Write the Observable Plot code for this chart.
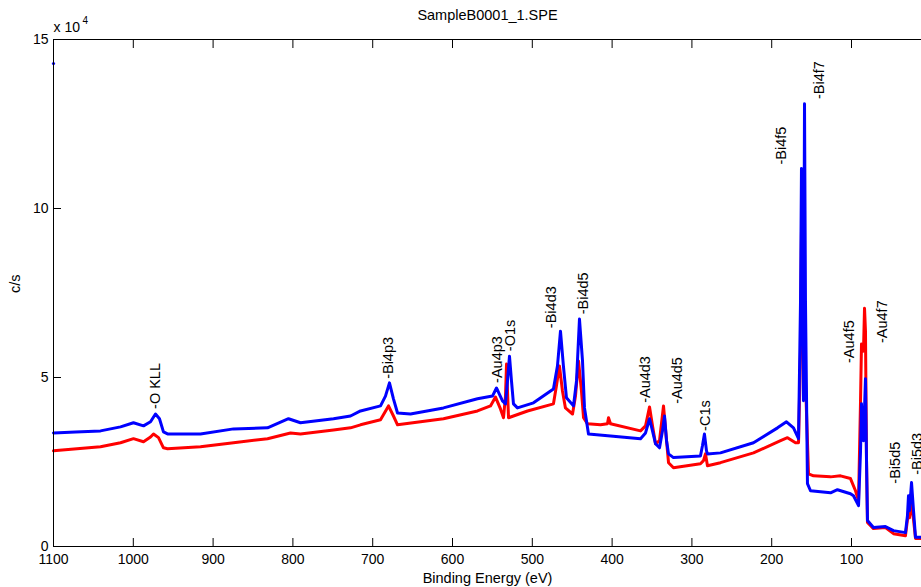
<!DOCTYPE html>
<html><head><meta charset="utf-8">
<script src="https://cdn.jsdelivr.net/npm/d3@7"></script>
<script src="https://cdn.jsdelivr.net/npm/@observablehq/plot@0.6"></script>
<style>body{margin:0;background:#fff}</style>
</head><body><div id="chart"></div>
<script>
// Binding energy (eV) and counts (in units of 10^4 c/s)
const blueEnergy = [1100,1072.4,1041.1,1016.0,999.8,987.2,978.4,972.2,967.2,962.2,957.1,915.8,874.4,831.8,805.5,790.5,749.1,727.8,715.3,690.2,684.0,679.0,674.0,668.9,652.6,611.3,568.7,549.9,544.9,537.4,533.6,531.1,528.6,526.1,523.6,518.6,498.5,473.5,468.5,464.7,461.0,457.2,448.4,444.6,440.9,437.1,434.6,429.6,402.0,364.4,358.1,353.1,349.4,345.6,340.6,336.9,334.3,331.8,329.3,323.1,289.3,286.8,284.3,281.7,280.5,264.2,222.8,192.7,181.5,172.7,166.4,163.9,162.7,161.5,160.2,158.9,157.7,155.2,151.4,126.3,117.6,101.3,97.5,91.2,88.7,87.5,86.2,85.0,82.5,81.2,80.0,72.5,57.5,47.4,32.4,29.9,28.6,27.4,24.8,22.3,19.8,12.3];
const blueCounts = [3.36,3.39,3.42,3.54,3.66,3.57,3.69,3.92,3.78,3.39,3.33,3.33,3.48,3.51,3.78,3.66,3.78,3.86,4.01,4.16,4.45,4.84,4.37,3.95,3.92,4.10,4.37,4.45,4.69,4.31,4.22,4.90,5.63,4.90,4.22,4.10,4.25,4.66,5.34,6.37,5.34,4.40,4.16,4.90,6.73,5.49,4.10,3.33,3.27,3.19,3.36,3.78,3.42,3.04,2.92,3.42,3.86,3.13,2.74,2.63,2.68,2.98,3.33,2.83,2.74,2.77,3.07,3.51,3.69,3.51,3.19,7.26,11.18,7.26,4.31,13.10,7.26,1.86,1.65,1.59,1.68,1.56,1.50,1.21,2.83,4.22,3.42,3.13,4.96,2.54,0.77,0.56,0.59,0.47,0.41,0.91,1.50,1.06,1.89,1.06,0.27,0.27];
const blueFirstEnergy = [1100];
const blueFirstCounts = [14.29];

const redEnergy = [1100,1041.1,1016,999.8,987.2,978.4,974.7,968.4,962.2,957.1,915.8,874.4,831.8,803,790.5,749.1,727.8,715.3,690.2,680.2,674,668.9,611.3,568.7,552.4,546.1,539.9,536.1,533.6,532.3,531.1,529.8,506,473.5,469.8,466,462.2,458.5,449.6,445.9,442.1,438.4,435.8,430.8,414.5,405.8,404.5,402,364.4,358.1,353.1,349.4,345.6,340.6,335.6,331.8,329.3,323.1,289.3,285.5,283,280.5,264.2,222.8,188.9,180.2,170.2,166.4,163.9,162.7,161.5,160.2,157.7,153.9,147.6,126.3,113.8,101.3,95,91.2,88.7,87.5,86.2,85,83.7,82.5,81.2,80,72.5,57.5,47.4,32.4,29.9,28.6,27.4,24.8,22.3,19.8,12.3];
const redCounts = [2.83,2.95,3.07,3.19,3.10,3.24,3.33,3.22,2.92,2.89,2.95,3.07,3.19,3.36,3.33,3.45,3.51,3.60,3.75,4.16,3.86,3.60,3.78,4.01,4.16,4.42,4.07,3.81,4.45,5.40,4.60,3.81,4.01,4.22,4.75,5.34,4.60,4.10,3.92,4.45,5.49,4.60,3.81,3.63,3.60,3.63,3.81,3.63,3.42,3.57,4.13,3.57,3.04,3.13,4.16,3.13,2.48,2.33,2.45,2.54,2.74,2.39,2.48,2.77,3.13,3.22,3.07,3.07,5.78,9.32,5.78,8.82,4.90,2.15,2.09,2.06,2.09,2.01,1.65,1.36,4.31,5.99,5.93,5.78,7.05,6.37,2.54,0.71,0.53,0.56,0.38,0.32,0.80,1.06,0.85,1.27,0.80,0.24,0.24];

const peakLabels = ["-O KLL","-Bi4p3","-Au4p3","-O1s","-Bi4d3","-Bi4d5","-Au4d3","-Au4d5","-C1s","-Bi4f5","-Bi4f7","-Au4f5","-Au4f7","-Bi5d5","-Bi5d3"];
const peakEnergy = [972,680,544,527,476,436,358,318,283,188,140,102.5,61,45,17];
const peakCounts = [4.07,4.96,4.84,5.78,6.46,6.87,4.25,4.22,3.42,11.3,13.24,5.43,6.02,1.86,2.12];

const xTicks = [1100,1000,900,800,700,600,500,400,300,200,100];
const yTicks = [0,5,10,15];
const titleText = "SampleB0001_1.SPE";
const xLabel = "Binding Energy (eV)";
const yLabel = "c/s";

const blue = blueEnergy.map((e,i)=>({e, c: blueCounts[i]}));
const red = redEnergy.map((e,i)=>({e, c: redCounts[i]}));
const blueFirst = blueFirstEnergy.map((e,i)=>({e, c: blueFirstCounts[i]}));
const peaks = peakLabels.map((label,i)=>({label, e: peakEnergy[i], c: peakCounts[i]}));

const font = "Liberation Sans, Arial, Helvetica, sans-serif";
const chart = Plot.plot({
  width: 921, height: 587,
  marginLeft: 53, marginRight: 0, marginTop: 39, marginBottom: 41,
  style: {fontFamily: font, fontSize: "14px", color: "#000", background: "#fff", overflow: "visible"},
  x: {domain: [1100, 12.3], axis: null},
  y: {domain: [0, 15], axis: null},
  marks: [
    Plot.line(red, {x: "e", y: "c", stroke: "#ff0000", strokeWidth: 3, strokeLinejoin: "round"}),
    Plot.line(blue, {x: "e", y: "c", stroke: "#0000ff", strokeWidth: 3, strokeLinejoin: "round"}),
    Plot.dot(blueFirst, {x: "e", y: "c", r: 1.6, fill: "#0000ff", stroke: null}),
    Plot.ruleY([0, 15], {stroke: "#000", strokeWidth: 1}),
    Plot.ruleX([1100], {stroke: "#000", strokeWidth: 1}),
    Plot.axisX({ticks: xTicks, tickSize: -8, tickPadding: 16, tickFormat: d => String(d), label: null, fontSize: 14}),
    Plot.axisX({anchor: "top", ticks: xTicks, tickSize: -8, tickFormat: () => "", label: null}),
    Plot.axisY({ticks: yTicks, tickSize: -8, tickPadding: 13, tickFormat: d => String(d), label: null, fontSize: 14}),
    Plot.text(peaks, {x: "e", y: "c", text: "label", rotate: -90, textAnchor: "start", lineAnchor: "middle", fontSize: 14.5}),
    Plot.text([titleText], {frameAnchor: "top", text: d => d, dy: -24, lineAnchor: "middle", fontSize: 14.5}),
    Plot.text([xLabel], {frameAnchor: "bottom", text: d => d, dy: 32, lineAnchor: "middle", fontSize: 14.5}),
    Plot.text([yLabel], {frameAnchor: "left", text: d => d, dx: -38, rotate: -90, lineAnchor: "middle", fontSize: 14.5}),
    Plot.text(["x 10"], {frameAnchor: "top-left", text: d => d, dy: -8, textAnchor: "start", lineAnchor: "bottom", fontSize: 14}),
    Plot.text(["4"], {frameAnchor: "top-left", text: d => d, dx: 29, dy: -16, textAnchor: "start", lineAnchor: "bottom", fontSize: 10})
  ]
});
document.getElementById("chart").appendChild(chart);
</script>
</body></html>
